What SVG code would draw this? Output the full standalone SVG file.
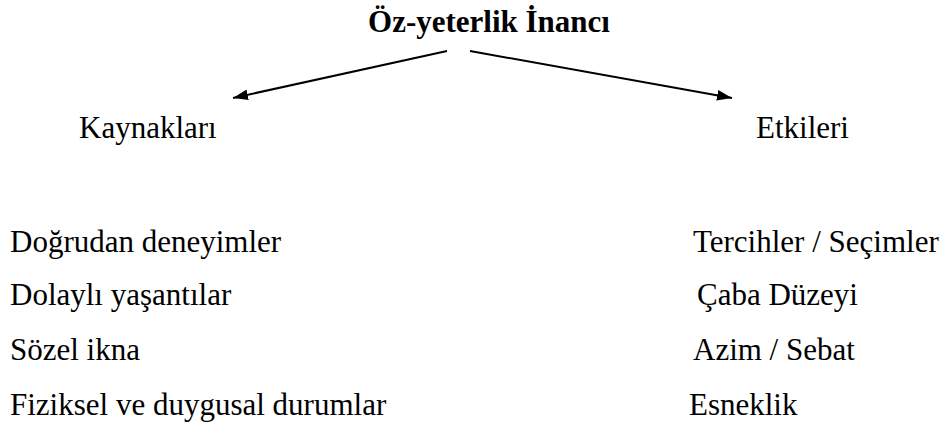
<svg xmlns="http://www.w3.org/2000/svg" width="952" height="427" viewBox="0 0 952 427">
<style>
text{font-family:"Liberation Serif",Tinos,"Times New Roman",Times,"Nimbus Roman","DejaVu Serif",serif;font-size:31px;font-weight:normal;fill:#000}
.title{font-weight:bold;font-size:31px}
.conn{stroke:#000;stroke-width:2;fill:none}
</style>
<defs>
<marker id="ah" viewBox="0 0 14 10" refX="14" refY="5" markerWidth="15" markerHeight="11" markerUnits="userSpaceOnUse" orient="auto">
<path d="M0,0 L14,5 L0,10 z" fill="#000"/>
</marker>
</defs>
<rect width="952" height="427" fill="#fff"/>
<g id="root"><text class="title" x="489" y="32" text-anchor="middle">Öz-yeterlik İnancı</text></g>
<g id="connectors">
<line class="conn" x1="447" y1="51" x2="233" y2="98" marker-end="url(#ah)"/>
<line class="conn" x1="470" y1="51" x2="732" y2="98" marker-end="url(#ah)"/>
</g>
<g id="kaynaklari">
<text x="79" y="138">Kaynakları</text>
<text x="10" y="252">Doğrudan deneyimler</text>
<text x="10" y="305">Dolaylı yaşantılar</text>
<text x="10" y="360">Sözel ikna</text>
<text x="10" y="415">Fiziksel ve duygusal durumlar</text>
</g>
<g id="etkileri">
<text x="756" y="138">Etkileri</text>
<text x="693" y="252">Tercihler / Seçimler</text>
<text x="697" y="305">Çaba Düzeyi</text>
<text x="693" y="360">Azim / Sebat</text>
<text x="689" y="415">Esneklik</text>
</g>
</svg>
